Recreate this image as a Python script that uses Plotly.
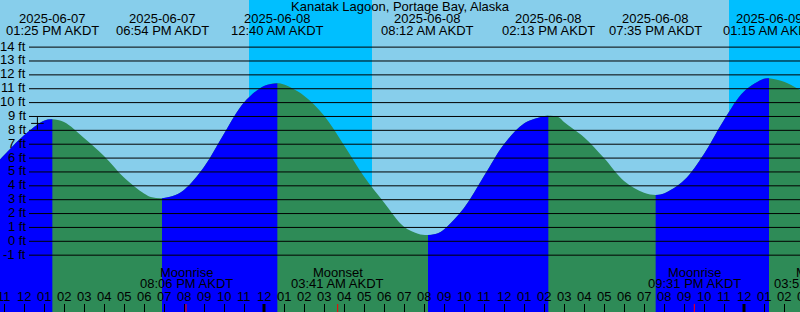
import plotly.graph_objects as go

# ---------------- data (hours relative to 2025-06-08 00:00 AKDT) ----------------
title_text = "Kanatak Lagoon, Portage Bay, Alaska"

tide_dates = ["2025-06-07", "2025-06-07", "2025-06-08", "2025-06-08",
              "2025-06-08", "2025-06-08", "2025-06-09"]
tide_times = ["01:25 PM AKDT", "06:54 PM AKDT", "12:40 AM AKDT", "08:12 AM AKDT",
              "02:13 PM AKDT", "07:35 PM AKDT", "01:15 AM AKDT"]
tide_hours = [-10.583, -5.1, 0.667, 8.2, 14.217, 19.583, 25.25]
tide_ft = [8.8, 3.1, 11.4, 0.45, 9.05, 3.34, 11.75]
tide_kind = ["high", "low", "high", "low", "high", "low", "high"]

# water level, roughly hourly (ft)
curve_hours = [-13.2, -13, -12, -11, -10.583, -10, -9, -8, -7, -6, -5.6, -5.1,
               -4.6, -4, -3, -2, -1, 0, 0.667, 1, 2, 3, 4, 5, 6, 7, 7.7, 8.2, 8.7,
               9, 10, 11, 12, 13, 14, 14.217, 14.717, 15, 16, 17, 18, 19, 19.583,
               20, 21, 22, 23, 24, 25, 25.25, 26, 26.8]
curve_ft = [5.9, 6.2, 7.65, 8.7, 8.8, 8.6, 7.45, 6.15, 4.6, 3.45, 3.17, 3.1,
            3.24, 3.7, 5.35, 7.75, 10.0, 11.2, 11.4, 11.3, 10.5, 9.07, 6.92, 4.67, 2.8, 1.05, 0.55, 0.45, 0.58,
            0.85, 2.4, 4.7, 7.0, 8.5, 9.02, 9.05, 8.96, 8.6, 7.5, 6.0, 4.35, 3.5, 3.34,
            3.45, 4.4, 6.3, 8.75, 10.8, 11.72, 11.75, 11.5, 10.9]

moon_names = ["Moonrise", "Moonset", "Moonrise", "Moonset"]
moon_times = ["08:06 PM AKDT", "03:41 AM AKDT", "09:31 PM AKDT", "03:51 AM AKDT"]
moon_hours = [-3.9, 3.683, 21.517, 27.85]

night_start = [-0.75, 23.25]
night_end = [5.4, 27.0]
midnight_hours = [0, 24]

now_hour = -11.33
now_ft = 8.5

grid_ft = list(range(-1, 15))
hour_ticks = list(range(-13, 28))
hour_labels = ["%02d" % (((h % 12) or 12)) for h in hour_ticks]

# ---------------- style ----------------
W, H = 800, 312
X0, X1 = -13.2, 26.8
Y0, Y1 = -5.097, 17.397
DAY = "#87CEEB"
NIGHT = "#00BFFF"
RISE = "#0000FF"
FALL = "#2E8B57"
FONT = dict(family="Liberation Sans, Arial, sans-serif", size=13, color="black")
BASE = -8


def xp(h):
    return (h - X0) / (X1 - X0)


def yp_bottom(baseline_px):
    # paper y for an annotation bottom so that the text baseline lands at baseline_px
    return 1 - (baseline_px + 3.8) / H


fig = go.Figure()

# whole curve in green (falling colour)
fig.add_trace(go.Scatter(x=[curve_hours[0], curve_hours[-1]], y=[BASE, BASE],
                         mode="lines", line=dict(width=0), hoverinfo="skip",
                         showlegend=False))
fig.add_trace(go.Scatter(x=curve_hours, y=curve_ft, mode="lines",
                         line=dict(width=0, shape="spline", smoothing=1),
                         fill="tonexty", fillcolor=FALL, hoverinfo="skip",
                         showlegend=False))

# rising parts in blue
bounds = [curve_hours[0]] + tide_hours + [curve_hours[-1]]
kinds = ["start"] + tide_kind + ["end"]
for i in range(len(bounds) - 1):
    a, b = bounds[i], bounds[i + 1]
    if kinds[i + 1] != "high":
        continue
    sx = [h for h in curve_hours if a - 1e-9 <= h <= b + 1e-9]
    sy = [curve_ft[curve_hours.index(h)] for h in sx]
    fig.add_trace(go.Scatter(x=[sx[0], sx[-1]], y=[BASE, BASE], mode="lines",
                             line=dict(width=0), hoverinfo="skip", showlegend=False))
    fig.add_trace(go.Scatter(x=sx, y=sy, mode="lines",
                             line=dict(width=0, shape="spline", smoothing=1),
                             fill="tonexty", fillcolor=RISE, hoverinfo="skip",
                             showlegend=False))

# current-time marker
fig.add_trace(go.Scatter(x=[now_hour], y=[now_ft], mode="markers",
                         marker=dict(symbol="cross-thin", size=9,
                                     line=dict(color="black", width=1)),
                         hoverinfo="skip", showlegend=False))

shapes = []
for s, e in zip(night_start, night_end):
    shapes.append(dict(type="rect", xref="x", yref="paper", x0=s, x1=e, y0=0, y1=1,
                       fillcolor=NIGHT, line=dict(width=0), layer="below"))
for ft in grid_ft:
    shapes.append(dict(type="line", xref="paper", yref="y", x0=29 / W, x1=1,
                       y0=ft, y1=ft, line=dict(color="black", width=1), layer="above"))
for m in midnight_hours:
    shapes.append(dict(type="line", xref="x", yref="paper", x0=m, x1=m, y0=0,
                       y1=8 / H, line=dict(color="black", width=3), layer="above"))
for m in moon_hours:
    shapes.append(dict(type="line", xref="x", yref="paper", x0=m, x1=m, y0=0,
                       y1=8 / H, line=dict(color="red", width=1), layer="above"))

ann = []
ann.append(dict(text=title_text, xref="paper", yref="paper", x=0.5, y=yp_bottom(11.7),
                xanchor="center", yanchor="bottom", showarrow=False, font=FONT))
for d, t, h in zip(tide_dates, tide_times, tide_hours):
    ann.append(dict(text=d, xref="paper", yref="paper", x=xp(h), y=yp_bottom(24),
                    xanchor="center", yanchor="bottom", showarrow=False, font=FONT))
    ann.append(dict(text=t, xref="paper", yref="paper", x=xp(h), y=yp_bottom(36),
                    xanchor="center", yanchor="bottom", showarrow=False, font=FONT))
for n, t, h in zip(moon_names, moon_times, moon_hours):
    ann.append(dict(text=n, xref="paper", yref="paper", x=xp(h), y=yp_bottom(277.7),
                    xanchor="center", yanchor="bottom", showarrow=False, font=FONT))
    ann.append(dict(text=t, xref="paper", yref="paper", x=xp(h), y=yp_bottom(289.3),
                    xanchor="center", yanchor="bottom", showarrow=False, font=FONT))
for h, lab in zip(hour_ticks, hour_labels):
    ann.append(dict(text=lab, xref="paper", yref="paper", x=xp(h), y=yp_bottom(302.3),
                    xanchor="center", yanchor="bottom", showarrow=False, font=FONT))
for ft in grid_ft:
    ann.append(dict(text="%d ft" % ft, xref="paper", yref="y", x=27.5 / W, y=ft,
                    xanchor="right", yanchor="middle", yshift=1, showarrow=False,
                    font=FONT))

fig.update_layout(
    width=W, height=H, margin=dict(l=0, r=0, t=0, b=0),
    paper_bgcolor=DAY, plot_bgcolor=DAY,
    shapes=shapes, annotations=ann, showlegend=False,
    xaxis=dict(range=[X0, X1], showgrid=False, zeroline=False, showline=False,
               tickvals=hour_ticks, ticks="inside", ticklen=8, tickwidth=1,
               tickcolor="black", showticklabels=False, fixedrange=True),
    yaxis=dict(range=[Y0, Y1], visible=False, showgrid=False, zeroline=False,
               fixedrange=True),
)

fig.write_html("out.html", config={"displayModeBar": False})
